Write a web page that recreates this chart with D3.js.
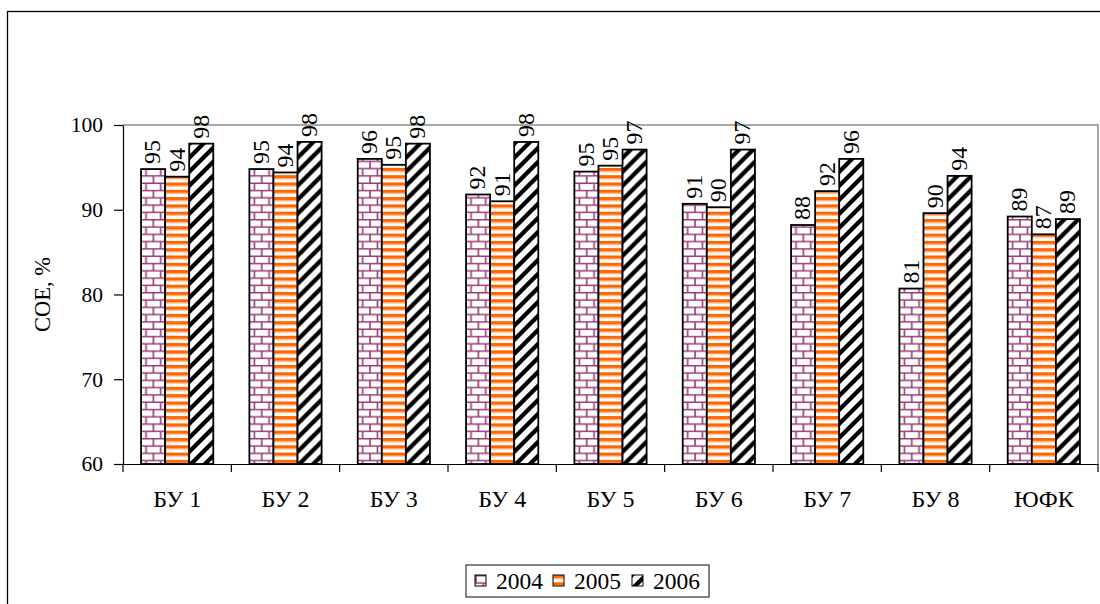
<!DOCTYPE html>
<html>
<head>
<meta charset="utf-8">
<script src="https://cdn.jsdelivr.net/npm/d3@7"></script>
<style>
  html, body { margin: 0; padding: 0; background: #fff; }
</style>
</head>
<body>
<svg id="chart" width="1100" height="604"></svg>
<script>
// Categories and yearly values (СОЕ, %)
const categories = ["БУ 1", "БУ 2", "БУ 3", "БУ 4", "БУ 5", "БУ 6", "БУ 7", "БУ 8", "ЮФК"];
const years = ["2004", "2005", "2006"];
const values2004 = [94.8, 94.8, 96.0, 91.8, 94.5, 90.7, 88.2, 80.7, 89.2];
const values2005 = [93.9, 94.4, 95.3, 91.0, 95.2, 90.3, 92.2, 89.6, 87.1];
const values2006 = [97.8, 98.0, 97.8, 98.0, 97.1, 97.1, 96.0, 94.0, 88.9];
const yTicks = [60, 70, 80, 90, 100];
const yTitle = "СОЕ, %";

const seriesValues = [values2004, values2005, values2006];
const svg = d3.select("#chart");
const FONT = "'Liberation Serif', 'Times New Roman', serif";

// Apply the serif face and a size to a text selection
function serif(sel, size) {
  return sel.style("font-family", FONT).style("font-size", size + "px").attr("fill", "#000");
}

// Fill patterns for the three years
const defs = svg.append("defs");

// 2004: plum brick
const brick = defs.append("pattern").attr("id", "pat2004")
  .attr("patternUnits", "userSpaceOnUse").attr("width", 14.7).attr("height", 14.6);
brick.append("rect").attr("width", 14.7).attr("height", 14.6).attr("fill", "#fff");
brick.append("path")
  .attr("d", "M0,0.7H14.7M0,8H14.7M1,0.7V8M8.35,8V14.6")
  .attr("stroke", "#993a74").attr("stroke-width", 1.6).attr("fill", "none");

// 2005: orange horizontal stripes
const stripes = defs.append("pattern").attr("id", "pat2005")
  .attr("patternUnits", "userSpaceOnUse").attr("width", 8).attr("height", 7.3);
stripes.append("rect").attr("width", 8).attr("height", 7.3).attr("fill", "#fff");
stripes.append("rect").attr("y", 0).attr("width", 8).attr("height", 3.3).attr("fill", "#ff6600");
stripes.append("rect").attr("y", 3.3).attr("width", 8).attr("height", 0.9).attr("fill", "#ffb27f");

// 2006: black wide upward diagonal
const diag = defs.append("pattern").attr("id", "pat2006")
  .attr("patternUnits", "userSpaceOnUse").attr("width", 14).attr("height", 14);
diag.append("rect").attr("width", 14).attr("height", 14).attr("fill", "#fff");
diag.append("path")
  .attr("d", "M-2,16L16,-2M-9,9L9,-9M5,23L23,5")
  .attr("stroke", "#000").attr("stroke-width", 4.3).attr("fill", "none");

const fills = ["url(#pat2004)", "url(#pat2005)", "url(#pat2006)"];

// Outer chart frame
svg.append("rect").attr("x", 7.5).attr("y", 11.5).attr("width", 1110).attr("height", 620)
  .attr("fill", "none").attr("stroke", "#000").attr("stroke-width", 1.3);

// Scales
const plot = { left: 123, right: 1098, top: 125, bottom: 464 };
const y = d3.scaleLinear().domain([60, 100]).range([plot.bottom, plot.top]);
const x0 = d3.scaleBand().domain(categories).range([plot.left, plot.right]).padding(0);
const x1 = d3.scaleBand().domain(years).range([0, x0.bandwidth()])
  .paddingInner(0).paddingOuter(0.75);

// Plot area top/right edges
svg.append("path")
  .attr("d", `M${plot.left},${plot.top}H${plot.right}V${plot.bottom}`)
  .attr("fill", "none").attr("stroke", "#8a8a8a").attr("stroke-width", 1.5);

// Bars
const groups = svg.append("g").selectAll("g")
  .data(categories).join("g")
  .attr("transform", d => `translate(${x0(d)},0)`);

groups.selectAll("rect")
  .data((c, i) => years.map((yr, s) => ({ yr, s, v: seriesValues[s][i] })))
  .join("rect")
  .attr("x", d => x1(d.yr))
  .attr("y", d => y(d.v))
  .attr("width", x1.bandwidth())
  .attr("height", d => y(60) - y(d.v))
  .attr("fill", d => fills[d.s])
  .attr("stroke", "#000").attr("stroke-width", 1.8);

// Value labels, rotated to read upwards
groups.selectAll("text")
  .data((c, i) => years.map((yr, s) => ({ yr, s, v: seriesValues[s][i] })))
  .join("text")
  .attr("transform", d => `translate(${x1(d.yr) + x1.bandwidth() / 2 - 1},${y(d.v) - 5}) rotate(-90)`)
  .attr("dy", "0.35em")
  .attr("text-anchor", "start")
  .call(serif, 24)
  .text(d => d3.format(".0f")(d.v));

// Y axis
const yAxis = svg.append("g").attr("transform", `translate(${plot.left},0)`)
  .call(d3.axisLeft(y).tickValues(yTicks).tickSize(9).tickSizeOuter(0).tickPadding(11));
yAxis.selectAll("text").call(serif, 21.5);
yAxis.selectAll("line").attr("stroke", "#000").attr("stroke-width", 1.2);
yAxis.select(".domain").attr("stroke", "#000").attr("stroke-width", 1.2);

// X axis: labels centred in each category, ticks at category boundaries
const xAxis = svg.append("g").attr("transform", `translate(0,${plot.bottom})`)
  .call(d3.axisBottom(x0).tickSize(0).tickSizeOuter(0).tickPadding(26));
xAxis.selectAll("text").call(serif, 24);
xAxis.select(".domain").attr("stroke", "#000").attr("stroke-width", 1.2);
const bounds = categories.map(c => x0(c)).concat([x0(categories[categories.length - 1]) + x0.bandwidth()]);
xAxis.selectAll("line.bound").data(bounds).join("line").attr("class", "bound")
  .attr("x1", d => d).attr("x2", d => d).attr("y1", 0).attr("y2", 8)
  .attr("stroke", "#000").attr("stroke-width", 1.2);

// Y axis title
svg.append("text")
  .attr("transform", `translate(42,${(plot.top + plot.bottom) / 2}) rotate(-90)`)
  .attr("text-anchor", "middle").attr("dy", "0.35em")
  .call(serif, 22.5).text(yTitle);

// Legend
const legend = svg.append("g").attr("transform", "translate(466,565)");
legend.append("rect").attr("width", 243).attr("height", 32)
  .attr("fill", "#fff").attr("stroke", "#333").attr("stroke-width", 1.2);
const legendX = [9, 87, 166];
years.forEach((yr, s) => {
  const g = legend.append("g").attr("transform", `translate(${legendX[s]},10)`);
  g.append("rect").attr("width", 11).attr("height", 11)
    .attr("fill", fills[s]).attr("stroke", "#000").attr("stroke-width", 1);
  g.append("text").attr("x", 21).attr("y", 6).attr("dy", "0.35em")
    .call(serif, 23.5).text(yr);
});
</script>
</body>
</html>
